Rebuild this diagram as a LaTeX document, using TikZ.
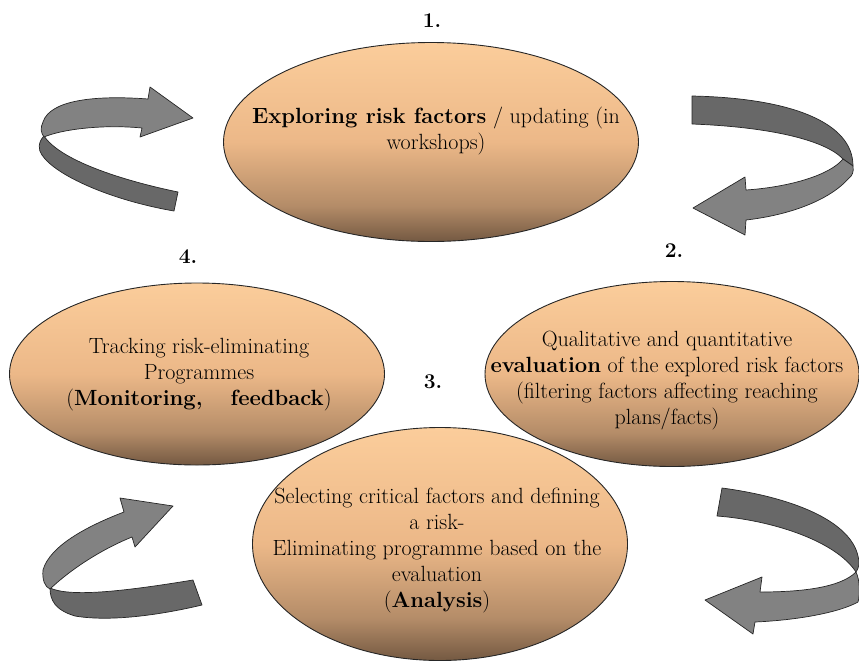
\documentclass[tikz,border=0pt]{standalone}
\usetikzlibrary{shapes.geometric}

\definecolor{peachtop}{RGB}{251,205,155}
\definecolor{peachmid}{RGB}{236,184,136}
\definecolor{peachlow}{RGB}{180,140,104}
\definecolor{peachbot}{RGB}{116,89,66}
\definecolor{backgray}{RGB}{104,104,104}
\definecolor{frontgray}{RGB}{130,130,130}
\pgfdeclareverticalshading{peach}{100bp}{color(0bp)=(peachbot); color(25bp)=(peachbot); color(34bp)=(peachlow); color(50bp)=(peachmid); color(75bp)=(peachtop); color(100bp)=(peachtop)}

\begin{document}
\begin{tikzpicture}[x=1pt,y=-1pt,
    phase/.style={ellipse, draw=black!85, line width=0.9pt, shade, shading=peach, inner sep=0pt},
    phasetext/.style={align=center, font=\fontsize{22}{26}\selectfont},
    steplabel/.style={font=\bfseries\fontsize{21}{26}\selectfont},
    bandback/.style={fill=backgray, draw=black!85, line width=0.7pt, line join=round},
    bandfront/.style={fill=frontgray, draw=black!85, line width=0.7pt, line join=round}]
    \useasboundingbox (0,0) rectangle (859,662);

    % top left
    \draw[bandback] (178,192) .. controls (120,180) and (60,160) .. (44,136)
        .. controls (38,142) and (38,150) .. (42,155)
        .. controls (55,175) and (110,200) .. (174,211) -- cycle;
    \draw[bandfront] (148,99) .. controls (95,95) and (50,100) .. (43,122)
        .. controls (40,128) and (41,133) .. (44,137)
        .. controls (60,130) and (100,124) .. (142,128)
        -- (140,137) -- (193,118) -- (150,87) -- cycle;

    % top right
    \draw[bandback] (692,96) .. controls (790,98) and (853,122) .. (853,166)
        -- (843,159) .. controls (825,140) and (770,127) .. (692,124) -- cycle;
    \draw[bandfront] (843,159) .. controls (830,175) and (790,187) .. (746,190)
        -- (745,177) -- (693,208) -- (745,235) -- (746,220)
        .. controls (790,215) and (830,200) .. (849,178)
        .. controls (852,176) and (854,172) .. (853,166) -- cycle;

    % bottom left
    \draw[bandback] (193,580) .. controls (120,592) and (70,597) .. (50,588)
        .. controls (50,600) and (55,610) .. (75,616)
        .. controls (110,622) and (160,615) .. (202,605) -- cycle;
    \draw[bandfront] (50,589) .. controls (70,570) and (100,550) .. (132,537)
        -- (135,547) -- (173,506) -- (120,498) -- (124,512)
        .. controls (90,525) and (50,545) .. (43,570)
        .. controls (42,580) and (45,587) .. (50,589) -- cycle;

    % bottom right
    \draw[bandback] (722,488) .. controls (790,497) and (850,520) .. (858,556)
        .. controls (860,562) and (859,568) .. (856,572)
        .. controls (835,540) and (770,520) .. (717,516) -- cycle;
    \draw[bandfront] (856,572) .. controls (840,588) and (800,592) .. (760,592)
        -- (762,577) -- (705,600) -- (753,634) -- (755,622)
        .. controls (800,620) and (840,612) .. (858,602)
        .. controls (860,595) and (860,580) .. (856,572) -- cycle;

    \node[phase, minimum width=415pt, minimum height=199pt] (explore) at (431,142) {};
    \node[phase, minimum width=374pt, minimum height=185pt] (evaluate) at (672,374) {};
    \node[phase, minimum width=375pt, minimum height=182pt] (track) at (197,374) {};
    \node[phase, minimum width=375pt, minimum height=233pt] (analyse) at (440,544) {};

    \node[phasetext] (exploretext) at (436,131) {\textbf{Exploring risk factors} / updating (in\\ workshops)};
    \node[phasetext] (evaluatetext) at (667,381) {Qualitative and quantitative\\ \textbf{evaluation} of the explored risk factors\\ (filtering factors affecting reaching\\ plans/facts)};
    \node[phasetext] (tracktext) at (199,375) {Tracking risk-eliminating\\ Programmes\\ (\textbf{Monitoring,}\hspace{28pt}\textbf{feedback})};
    \node[phasetext] (analysetext) at (437,551) {Selecting critical factors and defining\\ a risk-\\ Eliminating programme based on the\\ evaluation\\ (\textbf{Analysis})};

    \node[steplabel] (one) at (432,21) {1.};
    \node[steplabel] (two) at (674,251) {2.};
    \node[steplabel] (three) at (433,382) {3.};
    \node[steplabel] (four) at (188,257) {4.};
\end{tikzpicture}
\end{document}
